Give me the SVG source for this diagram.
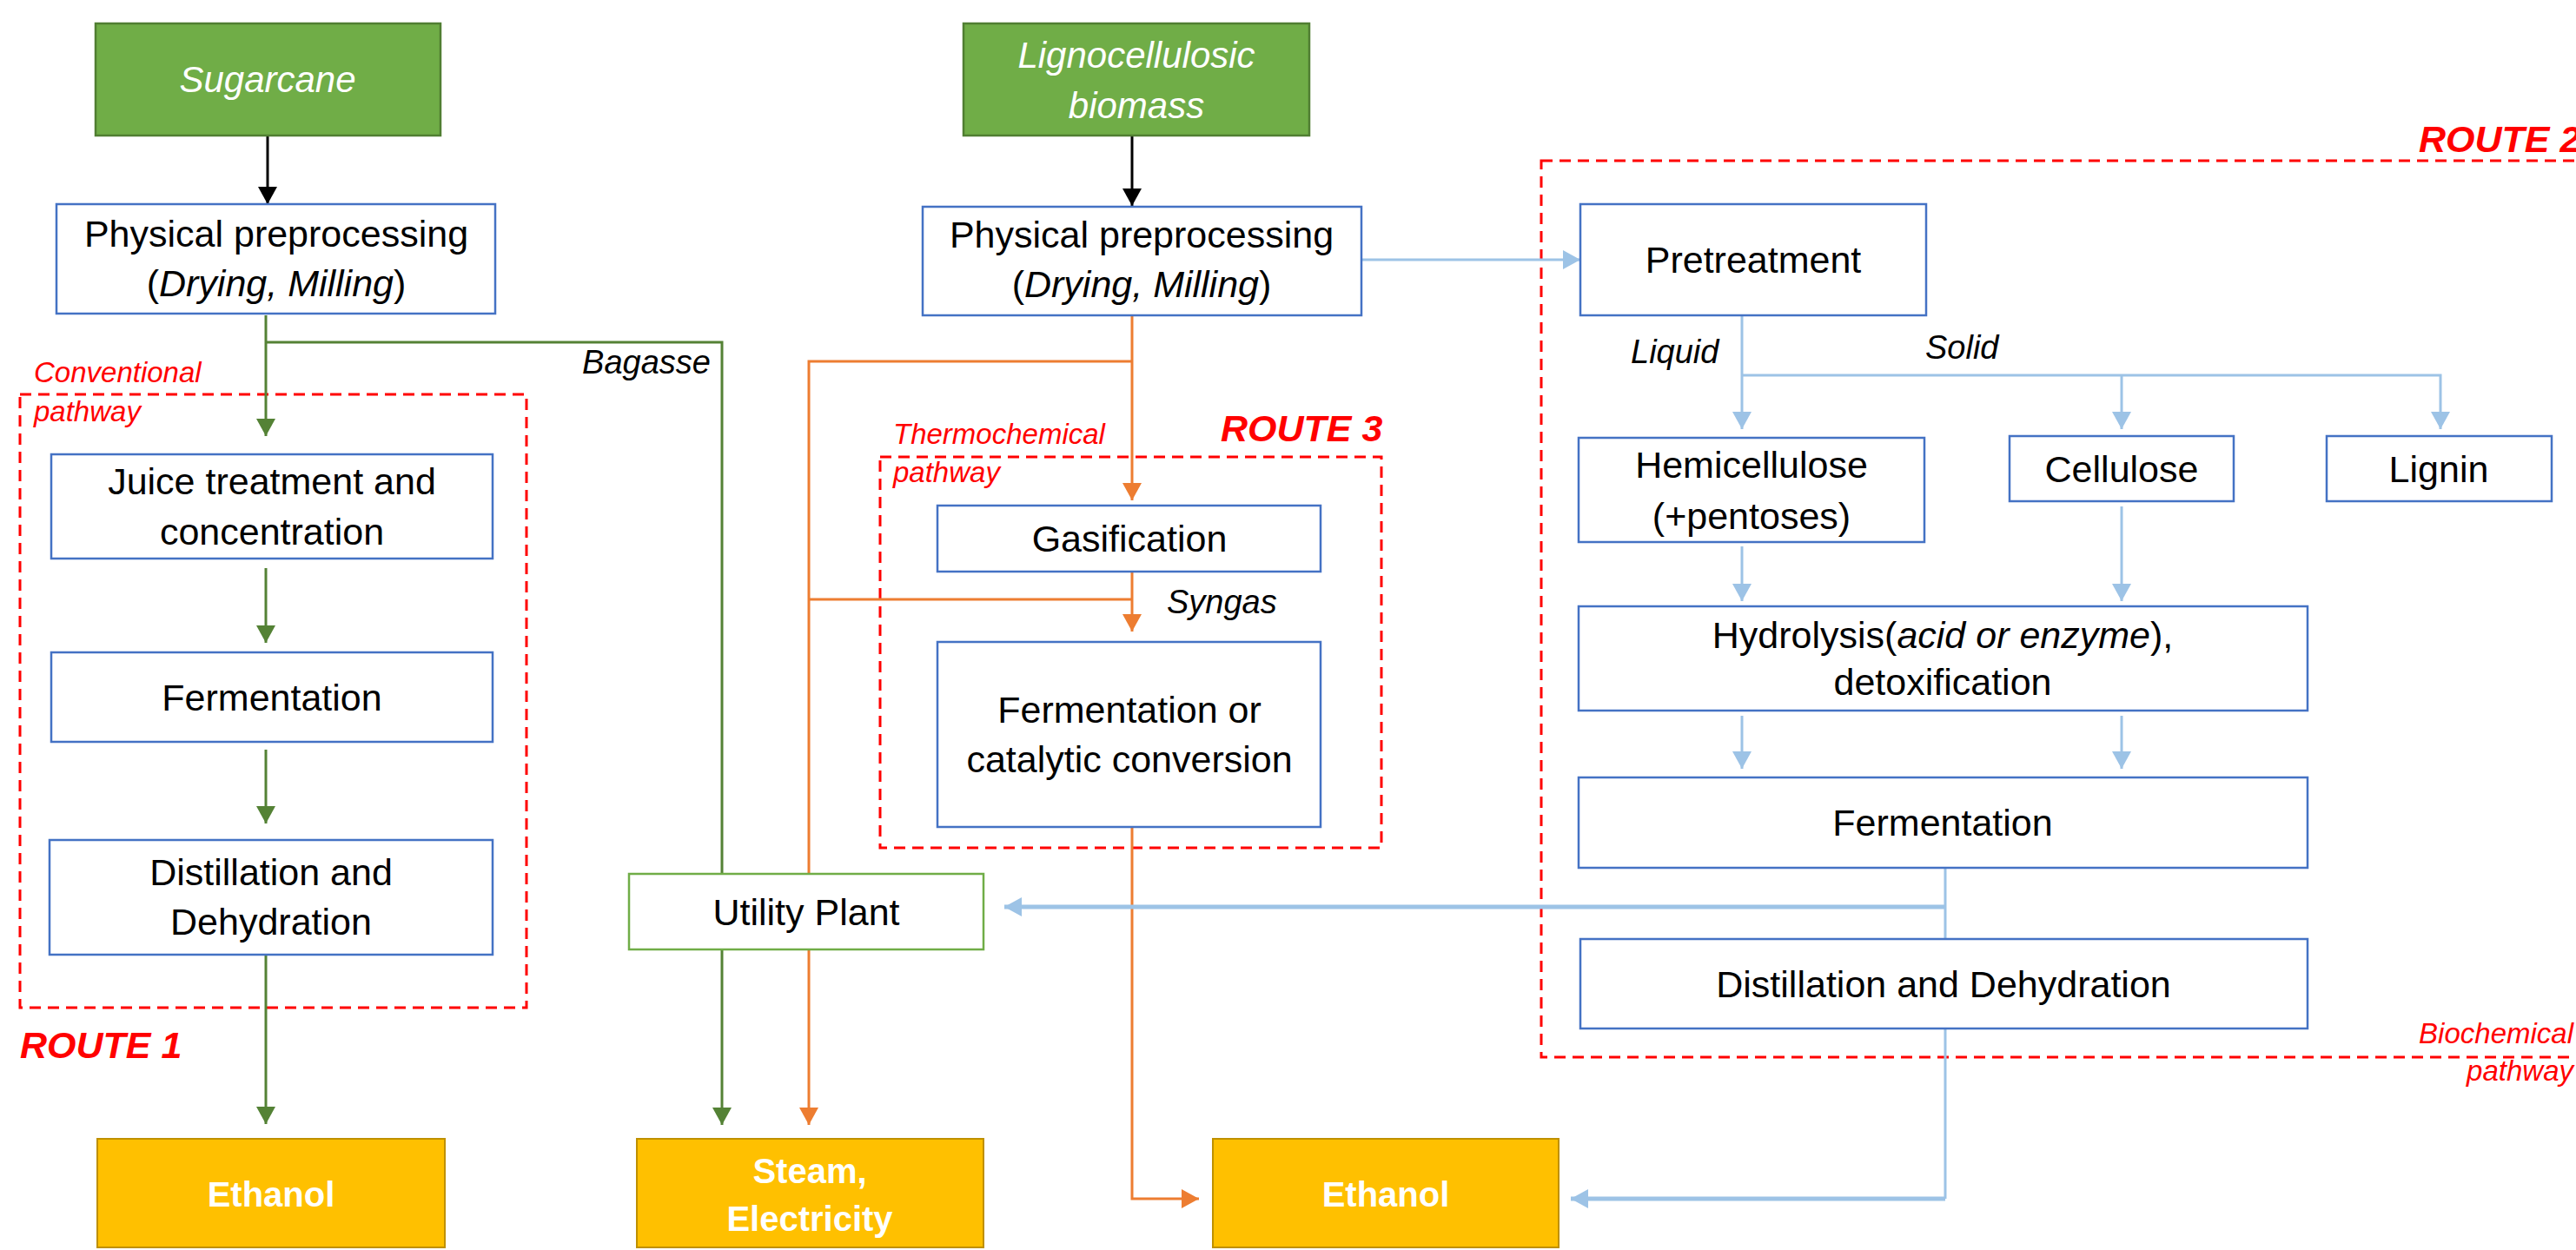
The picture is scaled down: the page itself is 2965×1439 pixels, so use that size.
<svg xmlns="http://www.w3.org/2000/svg" width="2965" height="1439" viewBox="0 0 2965 1439">
<style>
.box{fill:#fff;stroke:#4472C4;stroke-width:2.5}
.src{fill:#70AD47;stroke:#507E32;stroke-width:2.5}
.prod{fill:#FFC000;stroke:#BF9000;stroke-width:2}
.util{fill:#fff;stroke:#70AD47;stroke-width:2.5}
.grp{fill:none;stroke:#FF0000;stroke-width:3;stroke-dasharray:13 8}
text{font-family:'Liberation Sans',Arial,sans-serif;font-size:43px;fill:#000;text-anchor:middle}
text.w{fill:#fff;font-style:italic;font-size:42px}
text.p{fill:#fff;font-weight:bold;font-size:40px}
text.lab{font-style:italic;font-size:38px;text-anchor:start}
text.red{fill:#FF0000;font-style:italic;font-size:33px;text-anchor:start}
text.route{fill:#FF0000;font-style:italic;font-weight:bold;font-size:43px;text-anchor:start}
.ck{stroke:#000;stroke-width:3;fill:none}
.cg{stroke:#548235;stroke-width:3;fill:none}
.co{stroke:#ED7D31;stroke-width:3;fill:none}
.cb{stroke:#9DC3E6;stroke-width:3;fill:none}
.cbt{stroke:#9DC3E6;stroke-width:5;fill:none}
</style>
<defs>
<marker id="ak" viewBox="0 0 20 22" markerWidth="20" markerHeight="22" markerUnits="userSpaceOnUse" refX="20" refY="11" orient="auto"><path d="M0,0 L20,11 L0,22 Z" fill="#000"/></marker>
<marker id="ag" viewBox="0 0 20 22" markerWidth="20" markerHeight="22" markerUnits="userSpaceOnUse" refX="20" refY="11" orient="auto"><path d="M0,0 L20,11 L0,22 Z" fill="#548235"/></marker>
<marker id="ao" viewBox="0 0 20 22" markerWidth="20" markerHeight="22" markerUnits="userSpaceOnUse" refX="20" refY="11" orient="auto"><path d="M0,0 L20,11 L0,22 Z" fill="#ED7D31"/></marker>
<marker id="ab" viewBox="0 0 20 22" markerWidth="21" markerHeight="22" markerUnits="userSpaceOnUse" refX="20" refY="11" orient="auto"><path d="M0,0 L20,11 L0,22 Z" fill="#9DC3E6"/></marker>
</defs>

<g id="groups">
<rect class="grp" x="23" y="454" width="583" height="706"/>
<rect class="grp" x="1013" y="526" width="577" height="450"/>
<rect class="grp" x="1774" y="185" width="1220" height="1032"/>
<text class="red" x="39" y="440">Conventional</text>
<text class="red" x="39" y="485">pathway</text>
<text class="red" x="1028" y="511">Thermochemical</text>
<text class="red" x="1028" y="555">pathway</text>
<text class="red" x="2962" y="1201" style="text-anchor:end">Biochemical</text>
<text class="red" x="2962" y="1244" style="text-anchor:end">pathway</text>
<text class="route" x="23" y="1218">ROUTE 1</text>
<text class="route" x="2784" y="175">ROUTE 2</text>
<text class="route" x="1405" y="508">ROUTE 3</text>
</g>

<g id="connectors">
<path class="ck" d="M308,156 V235" marker-end="url(#ak)"/>
<path class="ck" d="M1303,156 V237" marker-end="url(#ak)"/>
<path class="cg" d="M306,363 V502" marker-end="url(#ag)"/>
<path class="cg" d="M306,394 H831 V1006"/>
<path class="cg" d="M306,654 V740" marker-end="url(#ag)"/>
<path class="cg" d="M306,863 V948" marker-end="url(#ag)"/>
<path class="cg" d="M306,1099 V1294" marker-end="url(#ag)"/>
<path class="cg" d="M831,1093 V1295" marker-end="url(#ag)"/>
<path class="co" d="M1303,363 V576" marker-end="url(#ao)"/>
<path class="co" d="M1303,416 H931 V1006"/>
<path class="co" d="M1303,658 V727" marker-end="url(#ao)"/>
<path class="co" d="M1303,690 H931"/>
<path class="co" d="M1303,952 V1380 H1380" marker-end="url(#ao)"/>
<path class="co" d="M931,1093 V1295" marker-end="url(#ao)"/>
<path class="cb" d="M1567,299 H1819" marker-end="url(#ab)"/>
<path class="cb" d="M2005,363 V494" marker-end="url(#ab)"/>
<path class="cb" d="M2005,432 H2809 V494" marker-end="url(#ab)"/>
<path class="cb" d="M2442,432 V494" marker-end="url(#ab)"/>
<path class="cb" d="M2005,629 V692" marker-end="url(#ab)"/>
<path class="cb" d="M2442,583 V692" marker-end="url(#ab)"/>
<path class="cb" d="M2005,824 V885" marker-end="url(#ab)"/>
<path class="cb" d="M2442,824 V885" marker-end="url(#ab)"/>
<path class="cb" d="M2239,999 V1081"/>
<path class="cbt" d="M2239,1044 H1156" marker-end="url(#ab)"/>
<path class="cb" d="M2239,1184 V1380"/>
<path class="cbt" d="M2239,1380 H1808" marker-end="url(#ab)"/>
<text class="lab" x="818" y="430" style="text-anchor:end">Bagasse</text>
<text class="lab" x="1343" y="706">Syngas</text>
<text class="lab" x="1877" y="418">Liquid</text>
<text class="lab" x="2216" y="413">Solid</text>
</g>

<g id="sugarcane"><rect class="src" x="110" y="27" width="397" height="129"/><text class="w" x="308" y="106">Sugarcane</text></g>
<g id="ligno"><rect class="src" x="1109" y="27" width="398" height="129"/><text class="w" x="1308" y="78">Lignocellulosic</text><text class="w" x="1308" y="136">biomass</text></g>

<g id="prep1"><rect class="box" x="65" y="235" width="505" height="126"/><text x="318" y="284">Physical preprocessing</text><text x="318" y="341">(<tspan font-style="italic">Drying, Milling</tspan>)</text></g>
<g id="juice"><rect class="box" x="59" y="523" width="508" height="120"/><text x="313" y="569">Juice treatment and</text><text x="313" y="627">concentration</text></g>
<g id="ferm1"><rect class="box" x="59" y="751" width="508" height="103"/><text x="313" y="818">Fermentation</text></g>
<g id="dist1"><rect class="box" x="57" y="967" width="510" height="132"/><text x="312" y="1019">Distillation and</text><text x="312" y="1076">Dehydration</text></g>
<g id="ethanol1"><rect class="prod" x="112" y="1311" width="400" height="125"/><text class="p" x="312" y="1389">Ethanol</text></g>

<g id="utility"><rect class="util" x="724" y="1006" width="408" height="87"/><text x="928" y="1065">Utility Plant</text></g>
<g id="steam"><rect class="prod" x="733" y="1311" width="399" height="125"/><text class="p" x="932" y="1362">Steam,</text><text class="p" x="932" y="1417">Electricity</text></g>

<g id="prep2"><rect class="box" x="1062" y="238" width="505" height="125"/><text x="1314" y="285">Physical preprocessing</text><text x="1314" y="342">(<tspan font-style="italic">Drying, Milling</tspan>)</text></g>
<g id="gasif"><rect class="box" x="1079" y="582" width="441" height="76"/><text x="1300" y="635">Gasification</text></g>
<g id="fermcat"><rect class="box" x="1079" y="739" width="441" height="213"/><text x="1300" y="832">Fermentation or</text><text x="1300" y="889">catalytic conversion</text></g>
<g id="ethanol2"><rect class="prod" x="1396" y="1311" width="398" height="125"/><text class="p" x="1595" y="1389">Ethanol</text></g>

<g id="pretreat"><rect class="box" x="1819" y="235" width="398" height="128"/><text x="2018" y="314">Pretreatment</text></g>
<g id="hemi"><rect class="box" x="1817" y="504" width="398" height="120"/><text x="2016" y="550">Hemicellulose</text><text x="2016" y="609">(+pentoses)</text></g>
<g id="cellulose"><rect class="box" x="2313" y="502" width="258" height="75"/><text x="2442" y="555">Cellulose</text></g>
<g id="lignin"><rect class="box" x="2678" y="502" width="259" height="75"/><text x="2807" y="555">Lignin</text></g>
<g id="hydro"><rect class="box" x="1817" y="698" width="839" height="120"/><text x="2236" y="746">Hydrolysis(<tspan font-style="italic">acid or enzyme</tspan>),</text><text x="2236" y="800">detoxification</text></g>
<g id="ferm2"><rect class="box" x="1817" y="895" width="839" height="104"/><text x="2236" y="962">Fermentation</text></g>
<g id="dist2"><rect class="box" x="1819" y="1081" width="837" height="103"/><text x="2237" y="1148">Distillation and Dehydration</text></g>
</svg>
